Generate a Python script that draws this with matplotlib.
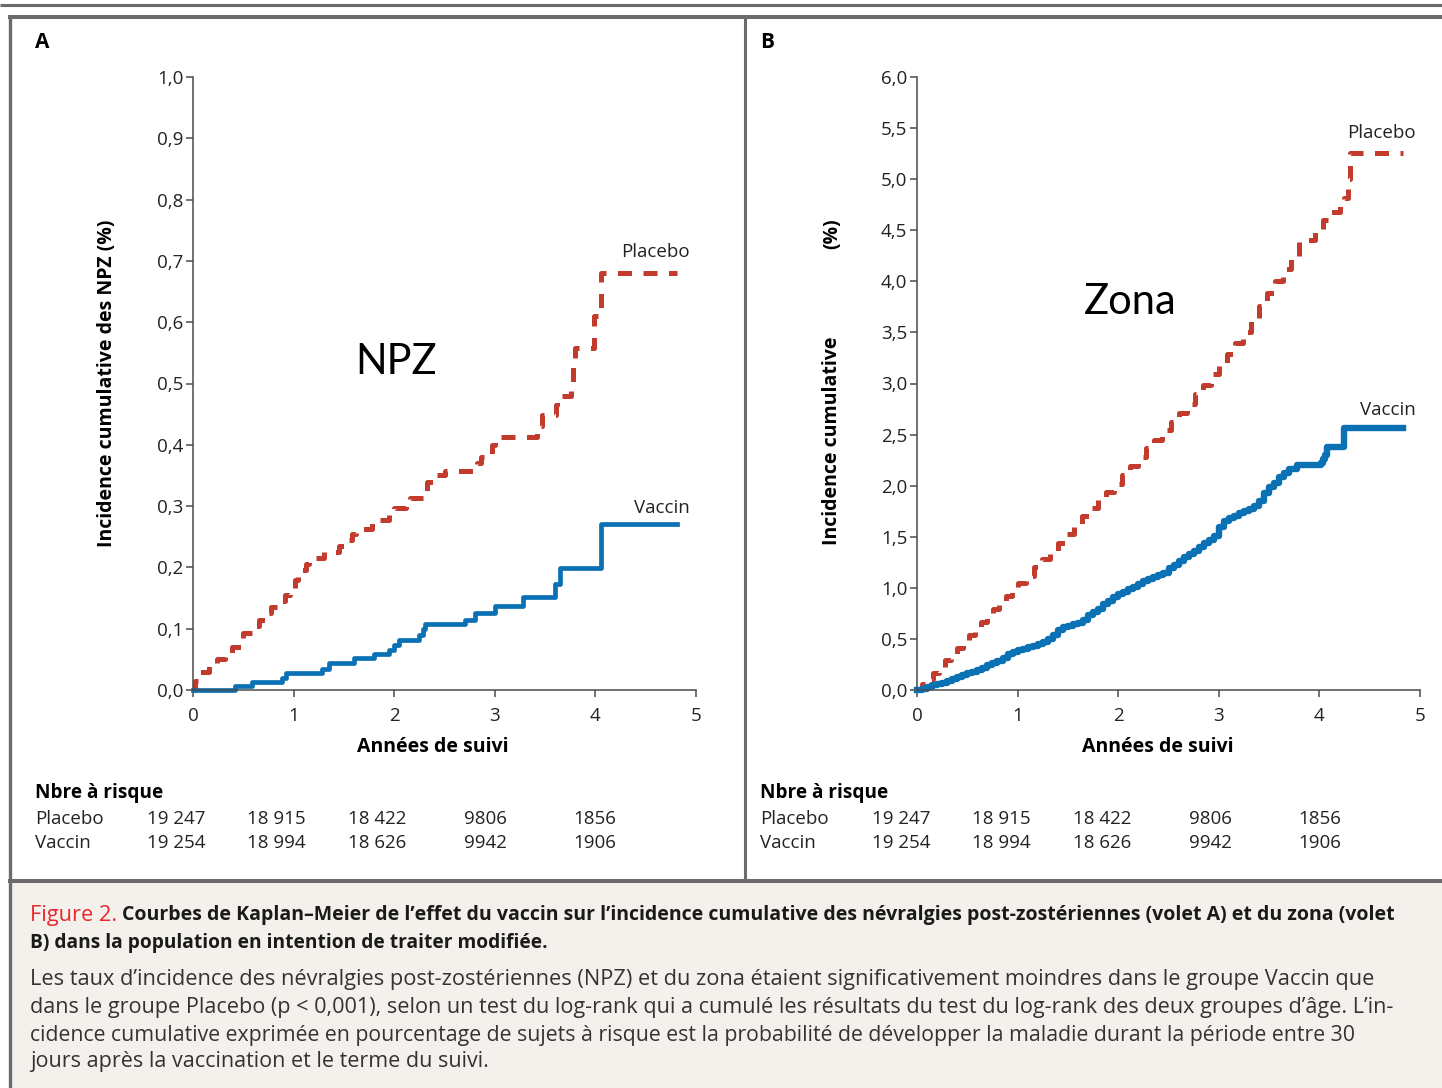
import matplotlib
matplotlib.use('Agg')
import matplotlib.pyplot as plt
from matplotlib.lines import Line2D
from matplotlib.patches import Rectangle

W, H = 1442, 1088

# panel A : NPZ (cumulative incidence, %)
plac_a_t = [0, 0.02, 0.06, 0.16, 0.24, 0.32, 0.39, 0.48, 0.50, 0.62, 0.66, 0.72, 0.78,
            0.86, 0.91, 0.96, 1.01, 1.04, 1.12, 1.15, 1.30, 1.45, 1.52, 1.58, 1.62, 1.78,
            1.82, 1.95, 2.00, 2.12, 2.16, 2.30, 2.33, 2.40, 2.50, 2.82, 2.86, 2.97, 3.00,
            3.42, 3.47, 3.61, 3.62, 3.76, 3.78, 3.80, 3.99, 4.06, 4.81]
plac_a_y = [0, 0.015, 0.03, 0.04, 0.05, 0.06, 0.07, 0.085, 0.093, 0.105, 0.115, 0.125, 0.136,
            0.145, 0.155, 0.165, 0.18, 0.195, 0.205, 0.215, 0.225, 0.235, 0.245, 0.255, 0.263, 0.272,
            0.278, 0.288, 0.297, 0.305, 0.313, 0.325, 0.34, 0.35, 0.357, 0.37, 0.38, 0.40, 0.413,
            0.43, 0.449, 0.465, 0.48, 0.496, 0.53, 0.558, 0.61, 0.68, 0.68]
vacc_a_t = [0, 0.42, 0.59, 0.88, 0.92, 1.28, 1.35, 1.60, 1.80, 1.95, 2.00, 2.05, 2.25, 2.29,
            2.31, 2.70, 2.80, 3.00, 3.28, 3.60, 3.65, 4.06, 4.81]
vacc_a_y = [0, 0.0065, 0.013, 0.02, 0.027, 0.035, 0.044, 0.052, 0.058, 0.066, 0.074, 0.081, 0.09, 0.10,
            0.107, 0.115, 0.125, 0.137, 0.151, 0.173, 0.199, 0.270, 0.270]

# panel B : zona
plac_b_t = [0, 0.05, 0.10, 0.16, 0.22, 0.28, 0.34, 0.40, 0.46, 0.52, 0.58, 0.64, 0.70, 0.76,
            0.82, 0.88, 0.94, 1.00, 1.08, 1.16, 1.24, 1.32, 1.40, 1.48, 1.56, 1.64, 1.72, 1.80,
            1.88, 1.96, 2.04, 2.12, 2.20, 2.28, 2.36, 2.44, 2.52, 2.60, 2.68, 2.76, 2.84, 2.92,
            3.00, 3.08, 3.16, 3.24, 3.32, 3.40, 3.48, 3.56, 3.64, 3.72, 3.80, 3.96, 4.04, 4.11,
            4.20, 4.24, 4.28, 4.30, 4.83]
plac_b_y = [0, 0.06, 0.11, 0.17, 0.23, 0.29, 0.35, 0.41, 0.47, 0.54, 0.61, 0.67, 0.73, 0.79,
            0.86, 0.92, 0.98, 1.05, 1.12, 1.20, 1.28, 1.36, 1.44, 1.53, 1.61, 1.70, 1.78, 1.86,
            1.94, 2.02, 2.10, 2.19, 2.28, 2.37, 2.45, 2.54, 2.62, 2.71, 2.80, 2.90, 2.99, 3.09,
            3.18, 3.29, 3.40, 3.50, 3.62, 3.76, 3.89, 4.00, 4.12, 4.23, 4.40, 4.48, 4.60, 4.68,
            4.80, 4.82, 5.00, 5.26, 5.26]
vacc_b_t = [0, 0.05, 0.10, 0.15, 0.20, 0.25, 0.30, 0.35, 0.40, 0.45, 0.50, 0.55, 0.60, 0.65,
            0.70, 0.75, 0.80, 0.85, 0.90, 0.95, 1.00, 1.05, 1.10, 1.15, 1.20, 1.25, 1.30, 1.35,
            1.40, 1.45, 1.50, 1.55, 1.60, 1.65, 1.70, 1.75, 1.80, 1.85, 1.90, 1.95, 2.00, 2.05,
            2.10, 2.15, 2.20, 2.25, 2.30, 2.35, 2.40, 2.45, 2.50, 2.55, 2.60, 2.65, 2.70, 2.75,
            2.80, 2.85, 2.90, 2.95, 3.00, 3.05, 3.10, 3.15, 3.20, 3.25, 3.30, 3.35, 3.40, 3.45,
            3.50, 3.55, 3.60, 3.65, 3.70, 3.78, 4.02, 4.04, 4.06, 4.08, 4.24, 4.83]
vacc_b_y = [0, 0.01, 0.03, 0.05, 0.06, 0.07, 0.09, 0.11, 0.13, 0.15, 0.17, 0.18, 0.20, 0.22,
            0.24, 0.26, 0.28, 0.31, 0.35, 0.37, 0.39, 0.40, 0.42, 0.43, 0.45, 0.47, 0.50, 0.54,
            0.59, 0.62, 0.63, 0.65, 0.66, 0.69, 0.73, 0.76, 0.79, 0.84, 0.87, 0.91, 0.94, 0.96,
            0.99, 1.01, 1.04, 1.07, 1.09, 1.11, 1.13, 1.15, 1.19, 1.22, 1.26, 1.30, 1.33, 1.36,
            1.40, 1.44, 1.47, 1.51, 1.60, 1.65, 1.68, 1.70, 1.73, 1.75, 1.77, 1.80, 1.85, 1.93,
            1.99, 2.03, 2.08, 2.12, 2.16, 2.20, 2.22, 2.26, 2.30, 2.38, 2.56, 2.56]

risk_plac = ['19 247', '18 915', '18 422', '9806', '1856']
risk_vacc = ['19 254', '18 994', '18 626', '9942', '1906']

ticks_a = [0.0, 0.1, 0.2, 0.3, 0.4, 0.5, 0.6, 0.7, 0.8, 0.9, 1.0]
ticks_b = [0.0, 0.5, 1.0, 1.5, 2.0, 2.5, 3.0, 3.5, 4.0, 4.5, 5.0, 5.5, 6.0]

RED = '#c23b2c'
BLUE = '#0b71b5'
GREY = '#6b6b6b'
TXT = '#222222'
FONT = ['Open Sans', 'DejaVu Sans']
CAPFONT = ['Liberation Sans Narrow', 'Open Sans', 'DejaVu Sans']
SMALL = 13.5

plt.rcParams['font.family'] = FONT


def fx(x):
    return x / W


def fy(y):
    return 1 - y / H


fig = plt.figure(figsize=(W / 100, H / 100), dpi=100)

# frame and caption background
fig.add_artist(Rectangle((fx(10), 0), 1 - fx(10), fy(883), transform=fig.transFigure,
                         color='#f4f1ec', zorder=0))
for (x0, y0, x1, y1, lw) in [(0, 5, W, 5, 2.2), (8, 17, W, 17, 2.9), (10, 16, 10, H, 2.4),
                             (745, 17, 745, 881, 2.2), (8, 881, W, 881, 2.9)]:
    fig.add_artist(Line2D([fx(x0), fx(x1)], [fy(y0), fy(y1)], transform=fig.transFigure,
                          color=GREY, lw=lw, solid_capstyle='butt'))


def panel(x0, ymax, yticks, pt, py, vt, vy, lw_v):
    ax = fig.add_axes([fx(x0), fy(690), 503 / W, 613 / H])
    ax.step(pt, py, where='post', color=RED, lw=3.6, linestyle=(0, (2.8, 2.3)),
            clip_on=False, dash_capstyle='butt')
    ax.step(vt, vy, where='post', color=BLUE, lw=lw_v, clip_on=False)
    ax.set_xlim(0, 5)
    ax.set_ylim(0, ymax)
    ax.set_xticks([0, 1, 2, 3, 4, 5])
    ax.set_yticks(yticks)
    ax.set_yticklabels([f'{v:.1f}'.replace('.', ',') for v in yticks])
    for s in ['top', 'right']:
        ax.spines[s].set_visible(False)
    for s in ['left', 'bottom']:
        ax.spines[s].set_color('#4a4a4a')
        ax.spines[s].set_linewidth(1.1)
    ax.tick_params(direction='out', length=5, width=1.1, color='#4a4a4a',
                   labelsize=SMALL, labelcolor=TXT, pad=2)
    ax.tick_params(axis='x', pad=7)
    ax.patch.set_alpha(0)
    return ax


ax_a = panel(193, 1.0, ticks_a, plac_a_t, plac_a_y, vacc_a_t, vacc_a_y, 3.4)
ax_b = panel(917, 6.0, ticks_b, plac_b_t, plac_b_y, vacc_b_t, vacc_b_y, 4.6)

# curve labels
ax_a.text(4.94, 0.715, 'Placebo', ha='right', va='center', fontsize=SMALL, color=TXT)
ax_a.text(4.94, 0.297, 'Vaccin', ha='right', va='center', fontsize=SMALL, color=TXT)
ax_b.text(4.96, 5.45, 'Placebo', ha='right', va='center', fontsize=SMALL, color=TXT)
ax_b.text(4.96, 2.74, 'Vaccin', ha='right', va='center', fontsize=SMALL, color=TXT)

# big annotations
fig.text(fx(396), fy(362), 'NPZ', ha='center', va='center', fontsize=30, family=['Lato', 'DejaVu Sans'])
fig.text(fx(1130), fy(302), 'Zona', ha='center', va='center', fontsize=30, family=['Lato', 'DejaVu Sans'])

# panel letters, axis labels
fig.text(fx(35), fy(42), 'A', ha='left', va='center', fontsize=15, fontweight='bold')
fig.text(fx(760), fy(42), 'B', ha='left', va='center', fontsize=15, fontweight='bold')
fig.text(fx(433), fy(747), 'Années de suivi', ha='center', va='center', fontsize=14, fontweight='bold')
fig.text(fx(1158), fy(747), 'Années de suivi', ha='center', va='center', fontsize=14, fontweight='bold')
fig.text(fx(107), fy(383), 'Incidence cumulative des NPZ (%)', ha='center', va='center',
         rotation=90, fontsize=14, fontweight='bold')
fig.text(fx(832), fy(545), 'Incidence cumulative', ha='center', va='bottom',
         rotation=90, fontsize=14, fontweight='bold')
fig.text(fx(832), fy(218), '(%)', ha='center', va='top',
         rotation=90, fontsize=14, fontweight='bold')

# number at risk
for off in [0, 725]:
    fig.text(fx(35 + off), fy(793), 'Nbre à risque', ha='left', va='center', fontsize=13.7, fontweight='bold')
    fig.text(fx(35 + off), fy(819), 'Placebo', ha='left', va='center', fontsize=SMALL, color=TXT)
    fig.text(fx(35 + off), fy(843), 'Vaccin', ha='left', va='center', fontsize=SMALL, color=TXT)
    for i, cx in enumerate([176, 276, 377, 485, 595]):
        fig.text(fx(cx + off), fy(819), risk_plac[i], ha='center', va='center', fontsize=SMALL, color=TXT)
        fig.text(fx(cx + off), fy(843), risk_vacc[i], ha='center', va='center', fontsize=SMALL, color=TXT)

# caption
renderer = fig.canvas.get_renderer()


def fit(t, width):
    bb = t.get_window_extent(renderer)
    t.set_fontsize(t.get_fontsize() * width / bb.width)


fig_lab = fig.text(fx(30), fy(915), 'Figure 2.', ha='left', va='center', fontsize=14,
                   color='#e8262d', family=CAPFONT)
fit(fig_lab, 87)
cap = [
    (122, 915, 1276, 'bold', "Courbes de Kaplan–Meier de l’effet du vaccin sur l’incidence cumulative des névralgies post-zostériennes (volet A) et du zona (volet"),
    (30, 943, 518, 'bold', "B) dans la population en intention de traiter modifiée."),
    (30, 979, 1347, 'normal', "Les taux d’incidence des névralgies post-zostériennes (NPZ) et du zona étaient significativement moindres dans le groupe Vaccin que"),
    (30, 1007, 1368, 'normal', "dans le groupe Placebo (p < 0,001), selon un test du log-rank qui a cumulé les résultats du test du log-rank des deux groupes d’âge. L’in-"),
    (30, 1035, 1333, 'normal', "cidence cumulative exprimée en pourcentage de sujets à risque est la probabilité de développer la maladie durant la période entre 30"),
    (30, 1062, 460, 'normal', "jours après la vaccination et le terme du suivi."),
]
for x, y, w, wt, s in cap:
    t = fig.text(fx(x), fy(y), s, ha='left', va='center', fontsize=14, fontweight=wt,
                 color='#1a1a1a' if wt == 'bold' else '#333333', family=CAPFONT)
    fit(t, w)

fig.savefig('out.png', dpi=100)
